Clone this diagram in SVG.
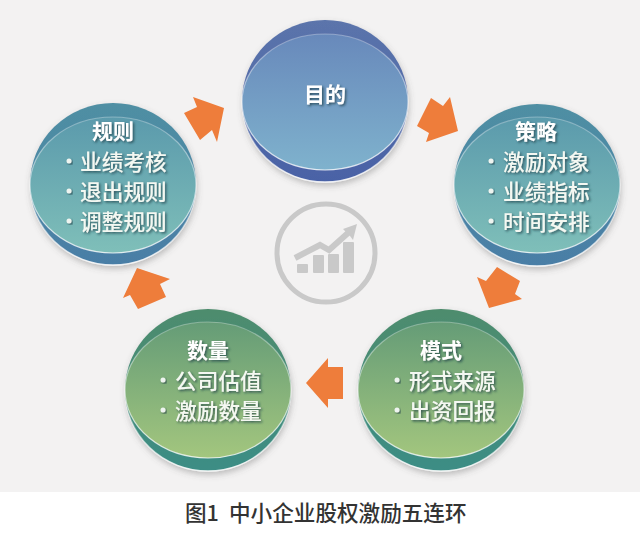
<svg xmlns="http://www.w3.org/2000/svg" width="640" height="538" viewBox="0 0 640 538">
<style>
text{font-family:"Noto Sans CJK SC","Liberation Sans",sans-serif}
.t{font-size:21px;font-weight:700;fill:#fff;text-anchor:middle;filter:url(#ts)}
.i{font-size:21.7px;font-weight:500;fill:#f4f8f2;filter:url(#ts)}
.b{fill:#eef4f0;filter:url(#ts)}
.f{stroke:url(#es);stroke-width:1.2}
.o{stroke:url(#eo);stroke-width:1.4;filter:url(#ds)}
.a{fill:#ee7d3b}
.cap{font-size:21.6px;font-weight:500;fill:#333}
.ic{fill:#c9c9c9}
</style>
<defs>
<filter id="ts" x="-20%" y="-20%" width="140%" height="140%"><feDropShadow dx="1.5" dy="1.5" stdDeviation="1.3" flood-color="#1e3a44" flood-opacity=".75"/></filter>
<filter id="ds" x="-10%" y="-10%" width="120%" height="120%"><feDropShadow dx="1" dy="3" stdDeviation="3" flood-color="#555" flood-opacity=".35"/></filter>
<linearGradient id="es" x1="0" y1="0" x2="0" y2="1"><stop offset="0" stop-color="#fff" stop-opacity=".3"/><stop offset="1" stop-color="#fff" stop-opacity=".8"/></linearGradient>
<linearGradient id="eo" x1="0" y1="0" x2="0" y2="1"><stop offset=".45" stop-color="#fff" stop-opacity="0"/><stop offset="1" stop-color="#fff" stop-opacity=".85"/></linearGradient>
<linearGradient id="rb" x1="0" y1="0" x2="0" y2="1"><stop offset="0" stop-color="#5b74ab"/><stop offset="1" stop-color="#4a62a6"/></linearGradient>
<linearGradient id="fb" x1="0" y1="0" x2="0" y2="1"><stop offset="0" stop-color="#6889bb"/><stop offset="1" stop-color="#7fb2cd"/></linearGradient>
<linearGradient id="rt" x1="0" y1="0" x2="0" y2="1"><stop offset="0" stop-color="#4f8fa3"/><stop offset="1" stop-color="#4a7ea6"/></linearGradient>
<linearGradient id="ft" x1="0" y1="0" x2="0" y2="1"><stop offset="0" stop-color="#5b9aac"/><stop offset="1" stop-color="#7fbfb9"/></linearGradient>
<linearGradient id="rg" x1="0" y1="0" x2="0" y2="1"><stop offset="0" stop-color="#4e8c6d"/><stop offset="1" stop-color="#3c8d85"/></linearGradient>
<linearGradient id="fg" x1="0" y1="0" x2="0" y2="1"><stop offset="0" stop-color="#659c77"/><stop offset="1" stop-color="#a3c67e"/></linearGradient>
</defs>
<rect width="640" height="538" fill="#fff"/>
<rect width="640" height="492" fill="#f3f2f2"/>
<g id="connectors" class="a">
<polygon id="c1" points="193,97 224,108 217,142 212,130 200,140 184,113 197,107"/>
<polygon id="c2" points="431,98 443,106 450,97 458,131 426,142 429,133 417,126"/>
<polygon id="c3" points="497,267 520,281 515,294 522,299 489,308 477,277 486,281"/>
<polygon id="c4" points="343,367 328,367 328,358 306,383 328,408 328,399 343,399"/>
<polygon id="c5" points="137,268 170,279 160,284 166,297 138,309 130,295 123,298"/>
</g>
<g id="icon" fill="none">
<circle cx="326" cy="253" r="49" stroke="#c9c9c9" stroke-width="5"/>
<g class="ic">
<rect x="297" y="264" width="11" height="9" rx="1"/><rect x="313" y="255" width="11" height="18" rx="1"/><rect x="328" y="254" width="11" height="19" rx="1"/><rect x="343" y="242" width="11" height="31" rx="1"/>
<polygon points="343,229 357,224 353,240 350,236"/>
</g>
<polyline points="295,258 320,245 329,250 348,233" stroke="#c9c9c9" stroke-width="6"/>
</g>
<g id="node-goal">
<ellipse class="o" cx="325" cy="101" rx="83" ry="81" fill="url(#rb)"/>
<ellipse class="f" cx="325" cy="102" rx="83" ry="68" fill="url(#fb)"/>
<text class="t" x="325" y="102">目的</text>
</g>
<g id="node-rules">
<ellipse class="o" cx="113" cy="184" rx="83" ry="81" fill="url(#rt)"/>
<ellipse class="f" cx="113" cy="185" rx="83" ry="68" fill="url(#ft)"/>
<text class="t" x="113" y="139">规则</text>
<circle class="b" cx="69" cy="161" r="2.5"/><text class="i" x="80" y="169.500">业绩考核</text>
<circle class="b" cx="69" cy="191" r="2.5"/><text class="i" x="80" y="199.500">退出规则</text>
<circle class="b" cx="69" cy="221" r="2.5"/><text class="i" x="80" y="229.500">调整规则</text>
</g>
<g id="node-strategy">
<ellipse class="o" cx="537" cy="185" rx="83" ry="81" fill="url(#rt)"/>
<ellipse class="f" cx="537" cy="185" rx="83" ry="68" fill="url(#ft)"/>
<text class="t" x="536" y="139">策略</text>
<circle class="b" cx="491" cy="161" r="2.5"/><text class="i" x="503" y="169.500">激励对象</text>
<circle class="b" cx="491" cy="191" r="2.5"/><text class="i" x="503" y="199.500">业绩指标</text>
<circle class="b" cx="491" cy="221" r="2.5"/><text class="i" x="503" y="229.500">时间安排</text>
</g>
<g id="node-mode">
<ellipse class="o" cx="441" cy="390" rx="83" ry="81" fill="url(#rg)"/>
<ellipse class="f" cx="441" cy="390" rx="83" ry="68" fill="url(#fg)"/>
<text class="t" x="441" y="358">模式</text>
<circle class="b" cx="397" cy="380" r="2.5"/><text class="i" x="409" y="388.500">形式来源</text>
<circle class="b" cx="397" cy="410" r="2.5"/><text class="i" x="409" y="418.500">出资回报</text>
</g>
<g id="node-quantity">
<ellipse class="o" cx="208" cy="390" rx="83" ry="81" fill="url(#rg)"/>
<ellipse class="f" cx="208" cy="390" rx="83" ry="68" fill="url(#fg)"/>
<text class="t" x="208" y="358">数量</text>
<circle class="b" cx="163" cy="380" r="2.5"/><text class="i" x="175" y="388.500">公司估值</text>
<circle class="b" cx="163" cy="410" r="2.5"/><text class="i" x="175" y="418.500">激励数量</text>
</g>
<text class="cap" x="185" y="521">图1</text>
<text class="cap" x="229" y="521">中小企业股权激励五连环</text>
</svg>
